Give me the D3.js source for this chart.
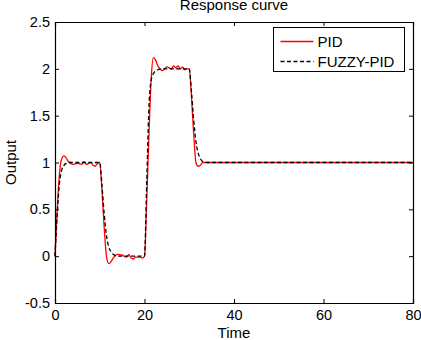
<!DOCTYPE html>
<html>
<head>
<meta charset="utf-8">
<script src="https://cdn.jsdelivr.net/npm/d3@7"></script>
<style>
  body { margin: 0; background: #fff; }
  svg { font-family: "Liberation Sans", Arial, sans-serif; }
</style>
</head>
<body>
<div id="chart"></div>
<script>
// data
const pidTime = [0, 0.5, 1, 1.5, 2, 2.5, 3, 3.5, 4, 5, 6, 6.5, 7, 7.5, 8, 8.5, 9, 9.5, 10,
  10.5, 11, 11.5, 12, 12.5, 13, 14, 15, 16, 16.5, 17, 17.5, 18, 19, 19.5, 20,
  20.5, 21, 21.5, 22, 22.5, 23, 23.5, 24, 25, 26, 26.5, 27, 27.5, 28, 28.5, 29, 29.5, 30,
  30.5, 31, 31.5, 32, 32.5, 33, 34, 80];
const pidValue = [0, 0.5, 0.88, 1.04, 1.07, 1.05, 1.01, 0.99, 0.98, 0.99, 0.98, 1.01, 0.98, 0.99, 1.0, 0.97, 0.96, 0.99, 1.0,
  0.7, 0.3, 0.0, -0.08, -0.06, -0.02, 0.02, 0.01, -0.01, 0.02, -0.02, -0.03, -0.01, -0.01, -0.02, 0.0,
  0.6, 1.3, 1.9, 2.12, 2.09, 2.03, 2.0, 1.98, 2.02, 2.0, 2.03, 2.01, 2.03, 2.0, 2.02, 1.99, 2.0, 2.0,
  1.7, 1.3, 1.0, 0.96, 0.97, 1.0, 1.0, 1.0];

const fuzzyTime = [0, 0.5, 1, 1.5, 2, 2.5, 3, 4, 10,
  10.5, 11, 11.5, 12, 12.5, 13, 14, 20,
  20.5, 21, 21.5, 22, 23, 24, 30,
  30.5, 31, 31.5, 32, 32.5, 33, 34, 80];
const fuzzyValue = [0, 0.45, 0.78, 0.92, 0.97, 0.99, 1.0, 1.0, 1.0,
  0.75, 0.45, 0.22, 0.1, 0.05, 0.02, 0.0, 0.0,
  0.8, 1.6, 1.88, 1.95, 1.99, 2.0, 2.0,
  1.75, 1.45, 1.22, 1.1, 1.04, 1.01, 1.0, 1.0];

const xTicks = [0, 20, 40, 60, 80];
const yTicks = [-0.5, 0, 0.5, 1, 1.5, 2, 2.5];
const seriesNames = ["PID", "FUZZY-PID"];

function main() {
    const W = 421, H = 340;
    const margin = {top: 22, right: 8, bottom: 37, left: 55},
        width = W - margin.left - margin.right,
        height = H - margin.top - margin.bottom;

    const svg = d3.select("#chart")
        .append("svg")
        .attr("width", W)
        .attr("height", H);

    const g = svg.append("g")
        .attr("transform", `translate(${margin.left}, ${margin.top})`);

    const x = d3.scaleLinear().domain([0, 80]).range([0, width]);
    const y = d3.scaleLinear().domain([-0.5, 2.5]).range([height, 0]);

    // lines
    const line = d3.line()
        .x(d => x(d[0]))
        .y(d => y(d[1]))
        .curve(d3.curveMonotoneX);

    const pid = pidTime.map((t, i) => [t, pidValue[i]]);
    const fuzzy = fuzzyTime.map((t, i) => [t, fuzzyValue[i]]);

    g.append("path")
        .datum(pid)
        .attr("fill", "none")
        .attr("stroke", "#ff0000")
        .attr("stroke-width", 1.3)
        .attr("d", line);

    g.append("path")
        .datum(fuzzy)
        .attr("fill", "none")
        .attr("stroke", "#000")
        .attr("stroke-width", 1.3)
        .attr("stroke-dasharray", "4,2.5")
        .attr("d", line);

    // axes, ticks inward on all sides
    const tickLen = 4;
    g.append("g")
        .attr("transform", `translate(0, ${height})`)
        .call(d3.axisBottom(x).tickValues(xTicks).tickSize(-tickLen).tickPadding(7));
    g.append("g")
        .call(d3.axisLeft(y).tickValues(yTicks).tickSize(-tickLen).tickPadding(5)
            .tickFormat(d => String(d)));
    g.append("g")
        .call(d3.axisTop(x).tickValues(xTicks).tickSize(-tickLen).tickFormat(""));
    g.append("g")
        .attr("transform", `translate(${width}, 0)`)
        .call(d3.axisRight(y).tickValues(yTicks).tickSize(-tickLen).tickFormat(""));

    g.selectAll(".domain").attr("stroke", "#000").attr("stroke-width", 1.2);
    g.selectAll(".tick line").attr("stroke", "#000");
    g.selectAll(".tick text")
        .attr("fill", "#000")
        .style("font-size", "14.5px")
        .style("font-family", "Liberation Sans, Arial, sans-serif");

    // titles
    svg.append("text")
        .attr("x", margin.left + width / 2)
        .attr("y", 9.5)
        .attr("text-anchor", "middle")
        .style("font-size", "15px")
        .text("Response curve");

    svg.append("text")
        .attr("x", margin.left + width / 2)
        .attr("y", 338)
        .attr("text-anchor", "middle")
        .style("font-size", "15px")
        .text("Time");

    svg.append("text")
        .attr("transform", `translate(16, ${margin.top + height / 2}) rotate(-90)`)
        .attr("text-anchor", "middle")
        .style("font-size", "15px")
        .text("Output");

    // legend
    const lg = svg.append("g").attr("transform", "translate(273.5, 27.5)");
    lg.append("rect")
        .attr("width", 131)
        .attr("height", 44)
        .attr("fill", "#fff")
        .attr("stroke", "#000")
        .attr("stroke-width", 1);

    const styles = [
        {stroke: "#ff0000", dash: null},
        {stroke: "#000", dash: "4,2.5"}
    ];
    seriesNames.forEach((name, i) => {
        const cy = 14 + i * 20;
        lg.append("line")
            .attr("x1", 7).attr("x2", 40)
            .attr("y1", cy).attr("y2", cy)
            .attr("stroke", styles[i].stroke)
            .attr("stroke-width", 1.3)
            .attr("stroke-dasharray", styles[i].dash);
        lg.append("text")
            .attr("x", 44)
            .attr("y", cy + 5.5)
            .style("font-size", "15px")
            .text(name);
    });
}

main()
</script>
</body>
</html>
